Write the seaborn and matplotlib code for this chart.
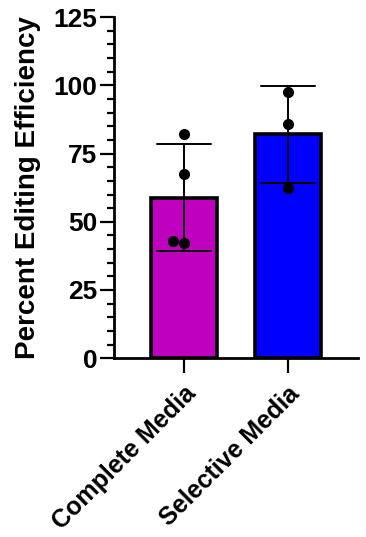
import pandas as pd
import matplotlib.pyplot as plt
import seaborn as sns
from matplotlib.ticker import MultipleLocator

# Replicate values
groups = ['Complete Media', 'Selective Media']
complete_media = [82.3, 67.6, 42.2, 43.1]
selective_media = [97.5, 86.0, 62.5]
bar_colors = ['#BF00BF', '#0000FF']

df = pd.DataFrame({
    'group': [groups[0]] * len(complete_media) + [groups[1]] * len(selective_media),
    'efficiency': complete_media + selective_media,
})

sns.set_style('ticks', rc={'axes.edgecolor': 'black', 'text.color': 'black',
                           'axes.labelcolor': 'black', 'xtick.color': 'black',
                           'ytick.color': 'black'})
plt.rcParams['font.family'] = ['Liberation Sans', 'DejaVu Sans']
plt.rcParams['font.weight'] = 'bold'

fig = plt.figure(figsize=(3.66, 5.37), dpi=100)
ax = fig.add_axes([0.311, 0.333, 0.667, 0.635])

sns.barplot(data=df, x='group', y='efficiency', hue='group', palette=bar_colors,
            order=groups, errorbar='sd', capsize=0.52, width=0.64, saturation=1,
            edgecolor='black', linewidth=2.6,
            err_kws={'color': 'black', 'linewidth': 1.4}, legend=False, ax=ax)
sns.swarmplot(data=df, x='group', y='efficiency', order=groups, color='black',
              size=8, ax=ax)

ax.set_ylim(0, 125)
ax.set_xlim(-0.68, 1.68)
ax.yaxis.set_major_locator(MultipleLocator(25))
ax.yaxis.set_minor_locator(MultipleLocator(5))
ax.tick_params(axis='y', which='major', length=10, width=1.6, pad=2)
ax.tick_params(axis='y', which='minor', length=5, width=1.6)
ax.tick_params(axis='x', length=11, width=1.6, pad=6)
for lab in ax.get_yticklabels():
    lab.set_fontfamily(['Liberation Sans Narrow', 'Liberation Sans'])
    lab.set_fontsize(19)
    lab.set_fontweight('bold')
plt.setp(ax.get_xticklabels(), rotation=45, ha='right', rotation_mode='anchor',
         fontsize=18, fontweight='bold')

ax.set_xlabel('')
ax.set_ylabel('Percent Editing Efficiency', fontsize=20, fontweight='bold', labelpad=9)
sns.despine(ax=ax)
for side in ['left', 'bottom']:
    ax.spines[side].set_linewidth(2)

fig.savefig('out.png', dpi=100)
